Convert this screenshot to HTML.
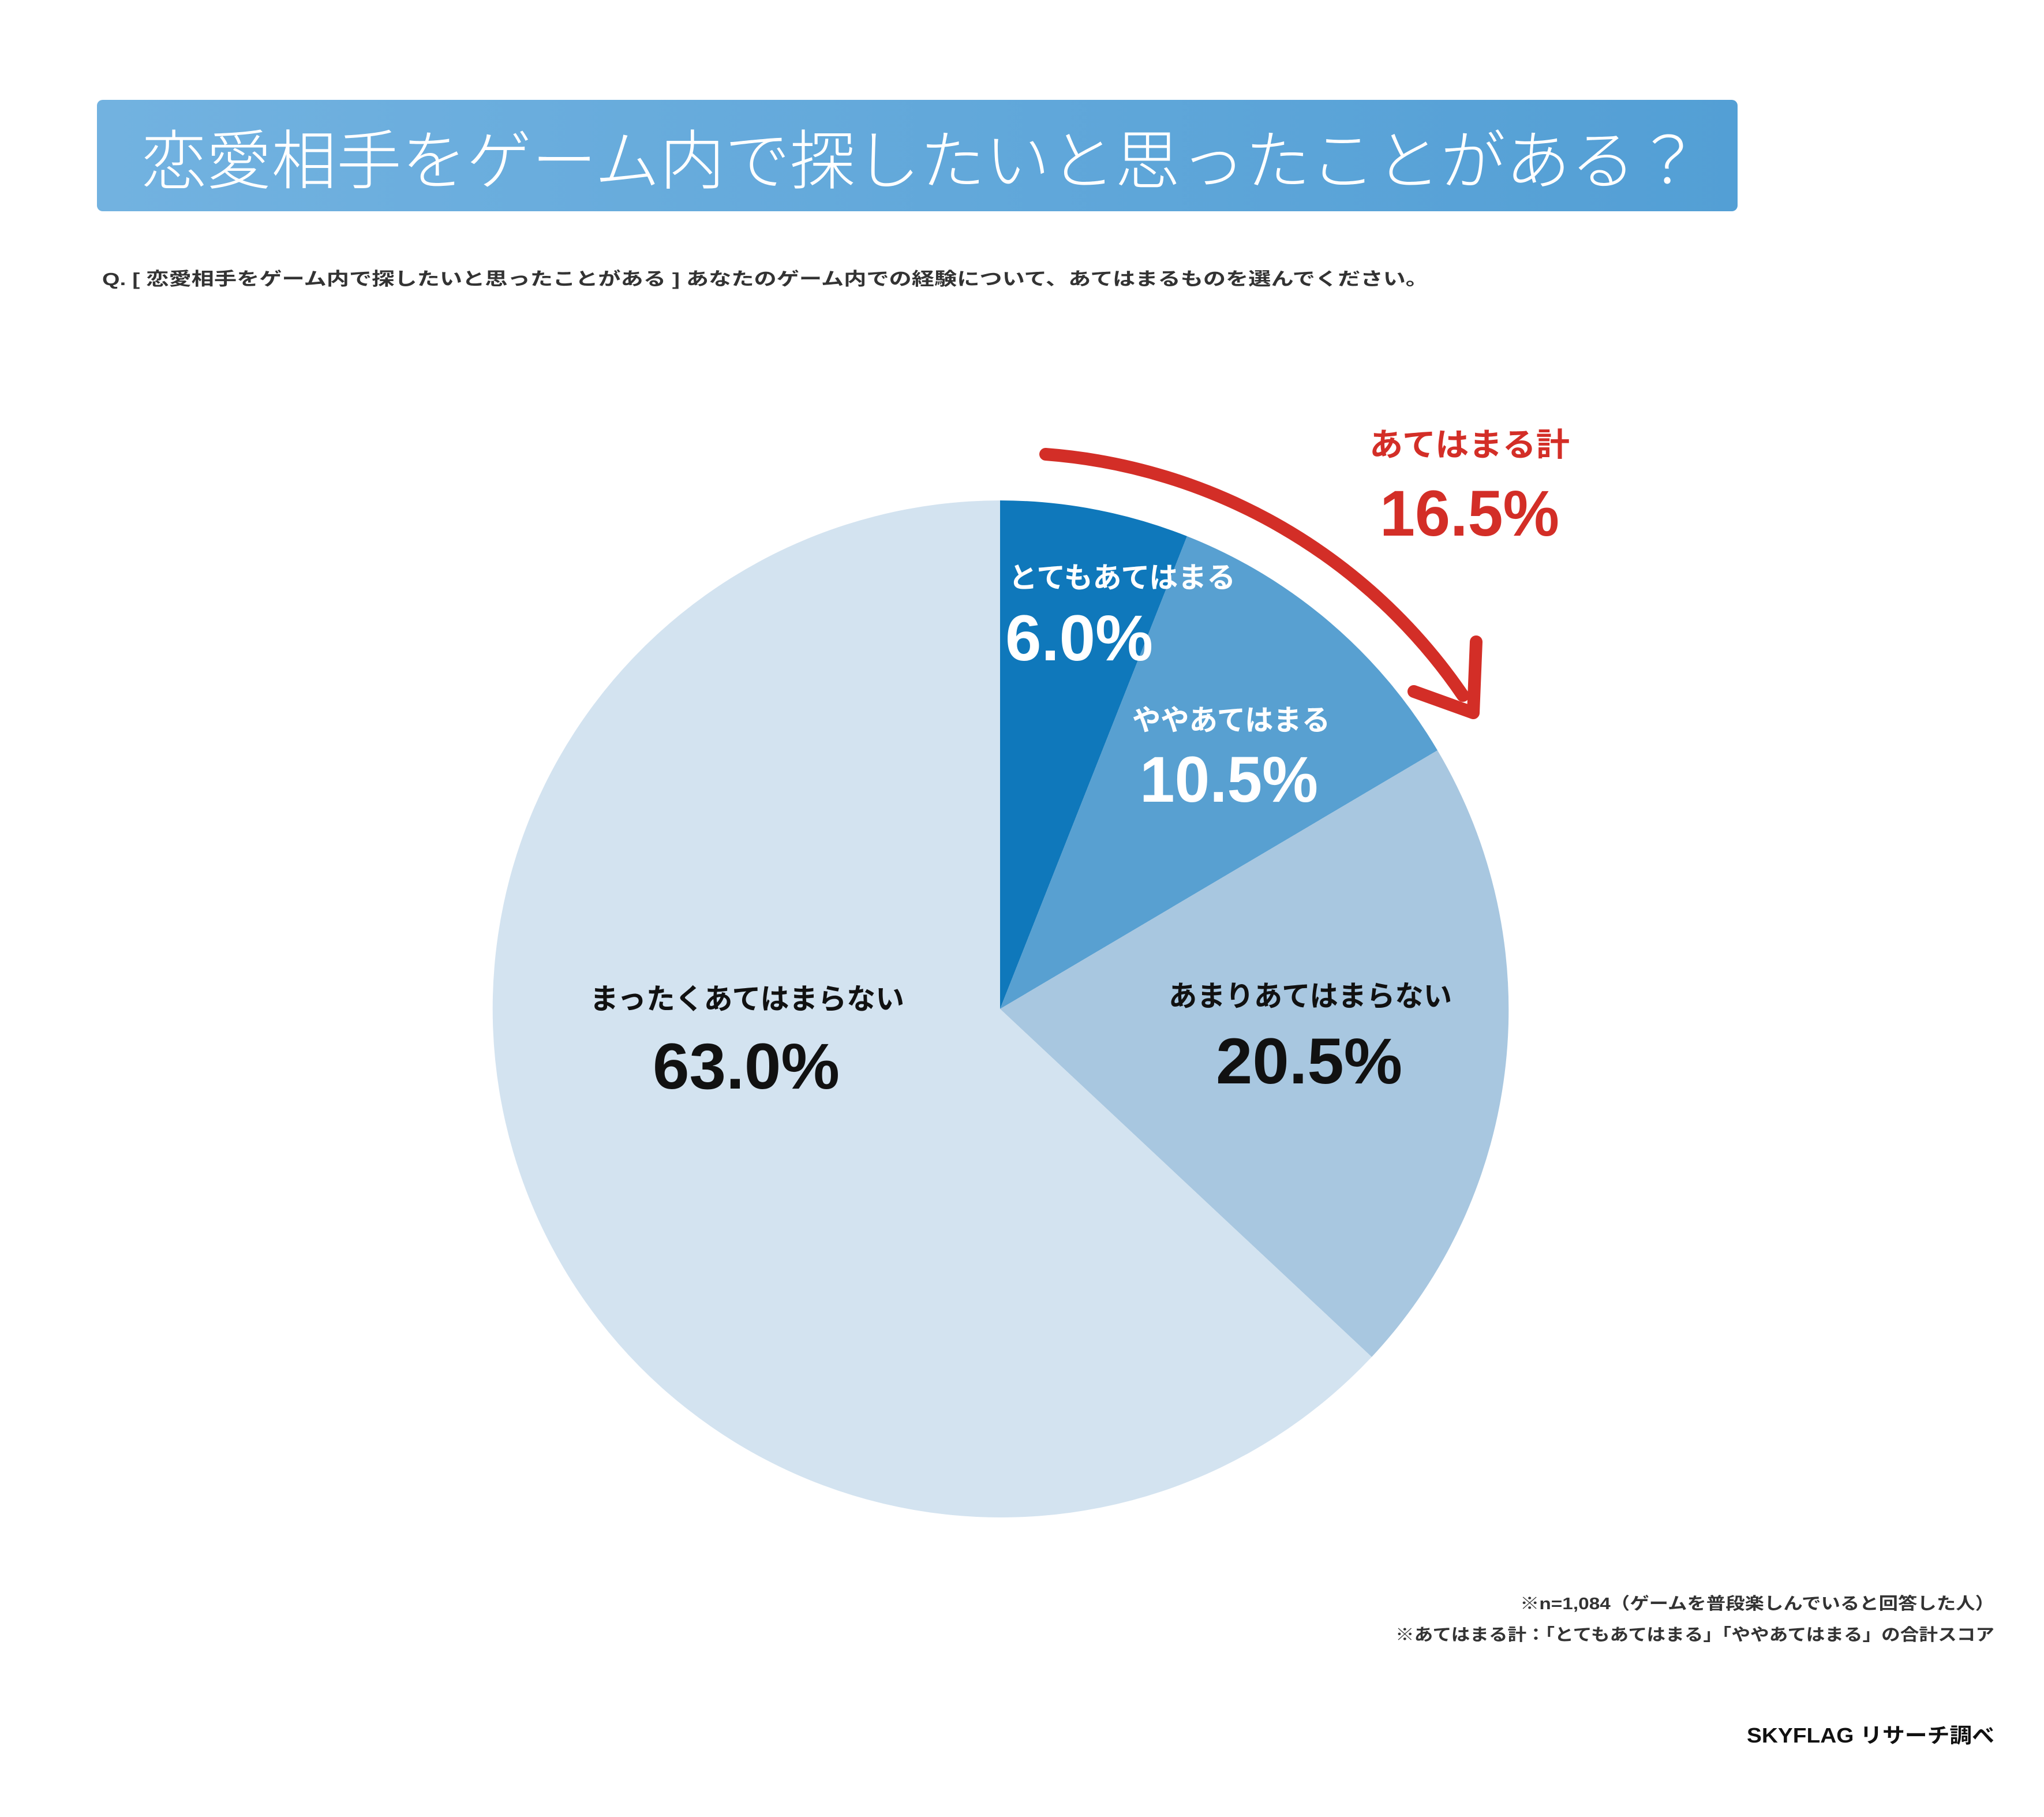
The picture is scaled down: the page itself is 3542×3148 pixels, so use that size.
<!DOCTYPE html>
<html><head><meta charset="utf-8"><style>
html,body{margin:0;padding:0;background:#fff;}
svg{display:block;}
text{font-family:"Liberation Sans","Noto Sans CJK JP",sans-serif;}
</style></head><body>
<svg width="3542" height="3148" viewBox="0 0 3542 3148" xmlns="http://www.w3.org/2000/svg">
<defs>
<linearGradient id="g" x1="0" x2="1" y1="0" y2="0">
<stop offset="0" stop-color="#72b2e0"/><stop offset="1" stop-color="#539fd5"/>
</linearGradient>
</defs>
<rect x="168" y="173" width="2843" height="193" rx="10" fill="url(#g)"/>
<text x="245" y="318" font-size="112" fill="#fff" textLength="2702" lengthAdjust="spacingAndGlyphs" font-weight="300">恋愛相手をゲーム内で探したいと思ったことがある？</text>
<text x="177" y="494" font-size="31" fill="#333" font-weight="bold" textLength="2298" lengthAdjust="spacingAndGlyphs">Q. [ 恋愛相手をゲーム内で探したいと思ったことがある ] あなたのゲーム内での経験について、あてはまるものを選んでください。</text>

<!-- pie -->
<path d="M1733,1748 L1733,867 A881,881 0 0 1 2057,929 Z" fill="#0f78bb"/>
<path d="M1733,1748 L2057,929 A881,881 0 0 1 2491,1300 Z" fill="#58a0d1"/>
<path d="M1733,1748 L2491,1300 A881,881 0 0 1 2377,2351 Z" fill="#a8c7e0"/>
<path d="M1733,1748 L2377,2351 A881,881 0 1 1 1733,867 Z" fill="#d3e3f0"/>

<!-- arrow -->
<path d="M1812,787 A963,963 0 0 1 2535,1205" fill="none" stroke="#d32e27" stroke-width="22" stroke-linecap="round"/>
<path d="M2450,1198 L2553,1235 L2558,1112" fill="none" stroke="#d32e27" stroke-width="22" stroke-linecap="round" stroke-linejoin="round"/>

<text x="2373" y="790" font-size="56" fill="#d32e27" font-weight="bold" textLength="347" lengthAdjust="spacingAndGlyphs">あてはまる計</text>
<text x="2391" y="928" font-size="112" fill="#d32e27" font-weight="bold" textLength="311" lengthAdjust="spacingAndGlyphs">16.5%</text>

<text x="1748" y="1018" font-size="50" fill="#fff" font-weight="bold" textLength="393" lengthAdjust="spacingAndGlyphs">とてもあてはまる</text>
<text x="1742" y="1144" font-size="112" fill="#fff" font-weight="bold" textLength="256" lengthAdjust="spacingAndGlyphs">6.0%</text>
<text x="1962" y="1265" font-size="50" fill="#fff" font-weight="bold" textLength="343" lengthAdjust="spacingAndGlyphs">ややあてはまる</text>
<text x="1975" y="1389" font-size="112" fill="#fff" font-weight="bold" textLength="309" lengthAdjust="spacingAndGlyphs">10.5%</text>
<text x="2025" y="1743" font-size="50" fill="#111" font-weight="bold" textLength="491" lengthAdjust="spacingAndGlyphs">あまりあてはまらない</text>
<text x="2107" y="1877" font-size="112" fill="#111" font-weight="bold" textLength="323" lengthAdjust="spacingAndGlyphs">20.5%</text>
<text x="1022" y="1748" font-size="50" fill="#111" font-weight="bold" textLength="545" lengthAdjust="spacingAndGlyphs">まったくあてはまらない</text>
<text x="1131" y="1886" font-size="112" fill="#111" font-weight="bold" textLength="324" lengthAdjust="spacingAndGlyphs">63.0%</text>

<text x="2634" y="2788" font-size="29" fill="#333" font-weight="bold" textLength="822" lengthAdjust="spacingAndGlyphs">※n=1,084（ゲームを普段楽しんでいると回答した人）</text>
<text x="2418" y="2842" font-size="29" fill="#333" font-weight="bold" textLength="1038" lengthAdjust="spacingAndGlyphs">※あてはまる計：「とてもあてはまる」「ややあてはまる」の合計スコア</text>
<text x="3027" y="3019" font-size="36" fill="#111" font-weight="bold" textLength="429" lengthAdjust="spacingAndGlyphs">SKYFLAG リサーチ調べ</text>
</svg>
</body></html>
